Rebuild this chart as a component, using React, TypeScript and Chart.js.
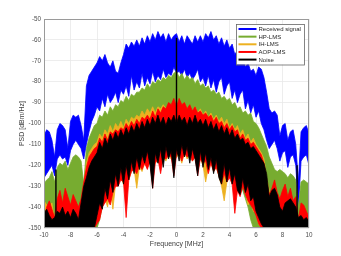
import React, { useEffect, useRef } from 'react';
import { Chart, registerables } from 'chart.js';

Chart.register(...registerables);

const FONT = '"Liberation Sans", Arial, Helvetica, sans-serif';

const FREQ = [
  -10, -9.8, -9.6, -9.4, -9.2, -9, -8.8, -8.6, -8.4, -8.2,
  -8, -7.8, -7.6, -7.4, -7.2, -7, -6.8, -6.6, -6.4, -6.2,
  -6, -5.8, -5.6, -5.4, -5.2, -5, -4.8, -4.6, -4.4, -4.2,
  -4, -3.8, -3.6, -3.4, -3.2, -3, -2.8, -2.6, -2.4, -2.2,
  -2, -1.8, -1.6, -1.4, -1.2, -1, -0.8, -0.6, -0.4, -0.2,
  0, 0.2, 0.4, 0.6, 0.8, 1, 1.2, 1.4, 1.6, 1.8,
  2, 2.2, 2.4, 2.6, 2.8, 3, 3.2, 3.4, 3.6, 3.8,
  4, 4.2, 4.4, 4.6, 4.8, 5, 5.2, 5.4, 5.6, 5.8,
  6, 6.2, 6.4, 6.6, 6.8, 7, 7.2, 7.4, 7.6, 7.8,
  8, 8.2, 8.4, 8.6, 8.8, 9, 9.2, 9.4, 9.6, 9.8,
  10,
];

// Received signal: upper / lower envelope of PSD (dBm/Hz)
const RX_UPPER = [
  -106, -103, -104, -108, -116, -103, -100, -101, -103, -112,
  -99, -96, -97, -96, -101, -108, -82, -77, -75, -73,
  -71, -68, -70, -67, -71, -73, -70, -75, -76, -71,
  -67, -62, -64, -61, -63, -60, -63, -59, -62, -58,
  -61, -57, -60, -56, -59, -57, -61, -57, -60, -58,
  -57, -61, -58, -62, -58, -60, -62, -58, -61, -58,
  -61, -57, -59, -56, -60, -58, -62, -59, -63, -60,
  -64, -62, -67, -65, -70, -68, -73, -71, -75, -74,
  -77, -73, -74, -78, -85, -93, -95, -94, -96, -106,
  -101, -100, -108, -104, -103, -110, -128, -104, -102, -101,
  -105,
];
const RX_LOWER = [
  -126, -124, -122, -120, -125, -117, -115, -117, -116, -120,
  -113, -110, -108, -110, -112, -117, -110, -104, -99, -96,
  -92, -94, -88, -92, -86, -90, -88, -85, -90, -84,
  -86, -82, -87, -77, -84, -80, -83, -76, -82, -78,
  -81, -75, -80, -77, -79, -74, -78, -76, -77, -73,
  -76, -75, -77, -74, -78, -76, -79, -77, -74, -80,
  -78, -82, -77, -83, -79, -85, -80, -78, -86, -82,
  -80, -88, -84, -90, -86, -84, -93, -89, -95, -91,
  -97, -94, -100, -103, -108, -112, -110, -108, -112, -118,
  -114, -113, -121, -116, -115, -120, -140, -118, -116, -115,
  -120,
];

// HP-LMS
const HP_UPPER = [
  -129, -127, -126, -123, -128, -121, -119, -120, -118, -122,
  -119, -116, -115, -116, -118, -129, -112, -107, -104, -101,
  -100, -96, -97, -94, -96, -92, -94, -91, -92, -89,
  -90, -87, -89, -86, -87, -85, -85, -83, -84, -81,
  -83, -80, -81, -79, -80, -78, -79, -77, -78, -76,
  -75, -78, -76, -79, -77, -79, -78, -81, -79, -82,
  -81, -83, -82, -85, -84, -86, -85, -88, -87, -89,
  -88, -91, -90, -93, -92, -95, -94, -96, -95, -99,
  -100, -102, -105, -108, -111, -116, -119, -122, -123, -122,
  -123, -124, -126, -124, -125, -127, -140, -128, -127, -128,
  -129,
];
const HP_LOWER = [
  -150, -150, -150, -150, -150, -150, -150, -150, -150, -150,
  -150, -150, -150, -150, -150, -150, -150, -150, -150, -150,
  -150, -146, -140, -136, -132, -130, -127, -125, -123, -121,
  -120, -118, -117, -116, -115, -114, -113, -112, -111, -111,
  -110, -110, -110, -110, -110, -110, -110, -110, -110, -110,
  -110, -110, -110, -110, -110, -110, -110, -110, -110, -110,
  -111, -111, -112, -113, -114, -115, -116, -117, -118, -120,
  -121, -123, -125, -127, -130, -132, -136, -140, -146, -150,
  -150, -150, -150, -150, -150, -150, -150, -150, -150, -150,
  -150, -150, -150, -150, -150, -150, -150, -150, -150, -150,
  -150,
];

// IH-LMS
const IH_UPPER = [
  -137, -139, -140, -138, -147, -139, -136, -139, -134, -138,
  -140, -137, -139, -141, -138, -130, -119, -114, -112, -110,
  -109, -105, -107, -103, -105, -101, -104, -100, -102, -99,
  -102, -98, -100, -97, -98, -96, -97, -94, -96, -93,
  -95, -92, -95, -92, -93, -91, -93, -92, -93, -92,
  -93, -91, -93, -91, -93, -92, -95, -92, -95, -93,
  -96, -94, -97, -95, -98, -96, -99, -97, -100, -98,
  -102, -100, -103, -101, -105, -103, -107, -105, -109, -107,
  -110, -112, -114, -117, -126, -132, -135, -133, -136, -138,
  -137, -136, -139, -137, -140, -139, -148, -141, -141, -143,
  -144,
];
const IH_LOWER = [
  -150, -150, -150, -150, -150, -150, -150, -150, -150, -150,
  -150, -150, -150, -150, -150, -150, -150, -150, -150, -150,
  -147, -143, -138, -136, -140, -131, -141, -129, -128, -126,
  -129, -125, -127, -123, -122, -131, -121, -123, -119, -121,
  -118, -121, -119, -117, -120, -116, -118, -115, -117, -118,
  -116, -115, -119, -114, -117, -115, -118, -116, -119, -117,
  -120, -128, -121, -119, -123, -121, -125, -130, -137, -128,
  -125, -129, -127, -131, -134, -130, -133, -139, -137, -142,
  -143, -148, -150, -150, -150, -150, -150, -150, -150, -150,
  -150, -150, -150, -150, -150, -150, -150, -150, -150, -150,
  -150,
];

// AOP-LMS
const AOP_UPPER = [
  -146, -140, -137, -141, -145, -136, -132, -138, -131, -135,
  -139, -134, -137, -140, -136, -128, -121, -116, -114, -112,
  -111, -107, -109, -105, -108, -104, -105, -103, -104, -102,
  -103, -100, -102, -99, -101, -98, -100, -97, -98, -96,
  -98, -94, -97, -93, -95, -92, -93, -90, -91, -88,
  -92, -88, -91, -90, -93, -91, -94, -92, -95, -94,
  -96, -95, -97, -96, -99, -97, -100, -99, -102, -100,
  -103, -101, -104, -103, -107, -105, -108, -107, -110, -109,
  -111, -113, -115, -119, -128, -134, -131, -127, -133, -136,
  -132, -129, -135, -131, -137, -135, -146, -138, -139, -142,
  -145,
];
const AOP_LOWER = [
  -150, -150, -150, -150, -150, -150, -150, -150, -150, -150,
  -150, -150, -150, -150, -150, -150, -150, -150, -150, -150,
  -148, -146, -140, -138, -136, -139, -133, -130, -130, -127,
  -128, -145, -127, -123, -122, -124, -120, -122, -119, -122,
  -118, -131, -119, -117, -124, -116, -117, -115, -116, -125,
  -115, -114, -118, -114, -116, -115, -118, -116, -125, -117,
  -119, -118, -124, -119, -123, -121, -125, -129, -124, -128,
  -126, -129, -143, -132, -135, -130, -134, -137, -139, -141,
  -144, -148, -150, -150, -150, -150, -150, -150, -150, -150,
  -150, -150, -150, -150, -150, -150, -150, -150, -150, -150,
  -150,
];

// Noise
const NOISE_UPPER = [
  -143, -141, -144, -146, -145, -142, -143, -140, -144, -142,
  -145, -141, -143, -146, -138, -130, -126, -121, -118, -116,
  -114, -109, -112, -107, -110, -105, -108, -104, -107, -103,
  -106, -102, -105, -101, -104, -100, -103, -99, -102, -98,
  -101, -97, -100, -96, -100, -97, -101, -97, -99, -96,
  -100, -96, -99, -97, -101, -97, -100, -96, -100, -98,
  -101, -98, -102, -99, -103, -100, -104, -101, -105, -102,
  -106, -103, -107, -105, -108, -107, -110, -109, -112, -111,
  -113, -115, -117, -119, -124, -135, -132, -131, -134, -140,
  -142, -138, -137, -136, -138, -140, -145, -144, -146, -145,
  -147,
];
const NOISE_LOWER = [
  -150, -150, -150, -150, -150, -150, -150, -150, -150, -150,
  -150, -150, -150, -150, -150, -150, -150, -150, -150, -150,
  -144, -138, -141, -131, -136, -127, -133, -124, -130, -121,
  -129, -120, -127, -118, -124, -116, -122, -115, -119, -113,
  -120, -131, -114, -119, -112, -121, -111, -117, -113, -126,
  -112, -118, -110, -116, -111, -119, -112, -117, -125, -113,
  -121, -114, -122, -116, -124, -117, -126, -129, -119, -128,
  -121, -129, -124, -132, -134, -126, -133, -129, -137, -135,
  -142, -145, -148, -150, -150, -150, -150, -150, -150, -150,
  -150, -150, -150, -150, -150, -150, -150, -150, -150, -150,
  -150,
];

// Narrow spurs in the noise spectrum
const SPUR_FREQ = [-9.1, 0, 9.1];
const SPUR_BASE = [-150, -100, -150];
const SPUR_TOP = [-122, -59, -120];

const SERIES_LABELS = ['Received signal', 'HP-LMS', 'IH-LMS', 'AOP-LMS', 'Noise'];
const SERIES_COLORS = ['#0000ff', '#77ac30', '#edb120', '#ff0000', '#000000'];
const SERIES_UPPER = [RX_UPPER, HP_UPPER, IH_UPPER, AOP_UPPER, NOISE_UPPER];
const SERIES_LOWER = [RX_LOWER, HP_LOWER, IH_LOWER, AOP_LOWER, NOISE_LOWER];

const X_TICKS = [-10, -8, -6, -4, -2, 0, 2, 4, 6, 8, 10];
const Y_TICKS = [-150, -140, -130, -120, -110, -100, -90, -80, -70, -60, -50];

const toPoints = (ys: number[]) => FREQ.map((f, i) => ({ x: f, y: ys[i] }));

const framePlugin = {
  id: 'frameAndLegend',
  afterDatasetsDraw(chart: any) {
    const { ctx, chartArea: a } = chart;
    ctx.save();
    ctx.strokeStyle = '#9a9a9a';
    ctx.lineWidth = 1;
    ctx.strokeRect(a.left + 0.5, a.top + 0.5, a.right - a.left - 1, a.bottom - a.top - 1);
    ctx.restore();
  },
  afterDraw(chart: any) {
    const { ctx } = chart;
    const bx = 236, by = 24, bw = 68, bh = 40.5;
    ctx.save();
    ctx.fillStyle = '#ffffff';
    ctx.fillRect(bx, by, bw, bh);
    ctx.strokeStyle = '#666666';
    ctx.lineWidth = 0.8;
    ctx.strokeRect(bx + 0.5, by + 0.5, bw, bh);
    ctx.font = `6px ${FONT}`;
    ctx.textBaseline = 'middle';
    ctx.textAlign = 'left';
    SERIES_LABELS.forEach((label, i) => {
      const y = by + 5 + i * 7.65;
      ctx.strokeStyle = SERIES_COLORS[i];
      ctx.lineWidth = 2;
      ctx.beginPath();
      ctx.moveTo(238.5, y);
      ctx.lineTo(256.5, y);
      ctx.stroke();
      ctx.fillStyle = '#262626';
      ctx.fillText(label, 258.5, y + 0.3);
    });
    ctx.restore();
  },
};

export default function App() {
  const ref = useRef<HTMLCanvasElement>(null);

  useEffect(() => {
    document.body.style.margin = '0';
    if (!ref.current) return;

    const datasets: any[] = [];
    SERIES_LABELS.forEach((label, k) => {
      const order = 10 - k * 2;
      datasets.push({
        label,
        data: toPoints(SERIES_UPPER[k]),
        borderColor: SERIES_COLORS[k],
        backgroundColor: SERIES_COLORS[k],
        borderWidth: 0.8,
        pointRadius: 0,
        tension: 0,
        fill: '+1',
        order,
      });
      datasets.push({
        label: label + ' (min)',
        data: toPoints(SERIES_LOWER[k]),
        borderColor: SERIES_COLORS[k],
        backgroundColor: SERIES_COLORS[k],
        borderWidth: 0.8,
        pointRadius: 0,
        tension: 0,
        fill: false,
        order,
      });
    });
    SPUR_FREQ.forEach((f, i) => {
      datasets.push({
        label: 'Noise spur',
        data: [
          { x: f, y: SPUR_BASE[i] },
          { x: f, y: SPUR_TOP[i] },
        ],
        borderColor: '#000000',
        borderWidth: 1.4,
        pointRadius: 0,
        fill: false,
        order: 0,
      });
    });

    const tickFont = { size: 6.3, family: FONT };
    const titleFont = { size: 7, family: FONT };

    const chart = new Chart(ref.current, {
      type: 'line',
      data: { datasets },
      plugins: [framePlugin],
      options: {
        animation: false,
        responsive: false,
        devicePixelRatio: 1,
        events: [],
        layout: { padding: { left: 0, right: 32, top: 19, bottom: 0 } },
        plugins: {
          legend: { display: false },
          tooltip: { enabled: false },
        },
        scales: {
          x: {
            type: 'linear',
            min: -10,
            max: 10,
            afterFit: (s: any) => {
              s.height = 28;
            },
            afterBuildTicks: (s: any) => {
              s.ticks = X_TICKS.map((v) => ({ value: v }));
            },
            ticks: {
              color: '#4d4d4d',
              font: tickFont,
              padding: 3,
              maxRotation: 0,
              autoSkip: false,
            },
            grid: { color: '#e9e9e9', lineWidth: 0.8, drawTicks: false },
            border: { display: false },
            title: {
              display: true,
              text: 'Frequency [MHz]',
              color: '#404040',
              font: titleFont,
              padding: { top: 0, bottom: 7.5 },
            },
          },
          y: {
            type: 'linear',
            min: -150,
            max: -50,
            afterFit: (s: any) => {
              s.width = 44;
            },
            afterBuildTicks: (s: any) => {
              s.ticks = Y_TICKS.map((v) => ({ value: v }));
            },
            ticks: {
              color: '#4d4d4d',
              font: tickFont,
              padding: 3,
              autoSkip: false,
            },
            grid: { color: '#e9e9e9', lineWidth: 0.8, drawTicks: false },
            border: { display: false },
            title: {
              display: true,
              text: 'PSD [dBm/Hz]',
              color: '#404040',
              font: titleFont,
              padding: { top: 17.5, bottom: 0 },
            },
          },
        },
      },
    } as any);

    return () => chart.destroy();
  }, []);

  return (
    <div style={{ position: 'absolute', left: 0, top: 0, width: 341, height: 256, background: '#fff' }}>
      <canvas ref={ref} width={341} height={256} style={{ width: 341, height: 256, display: 'block' }} />
    </div>
  );
}
